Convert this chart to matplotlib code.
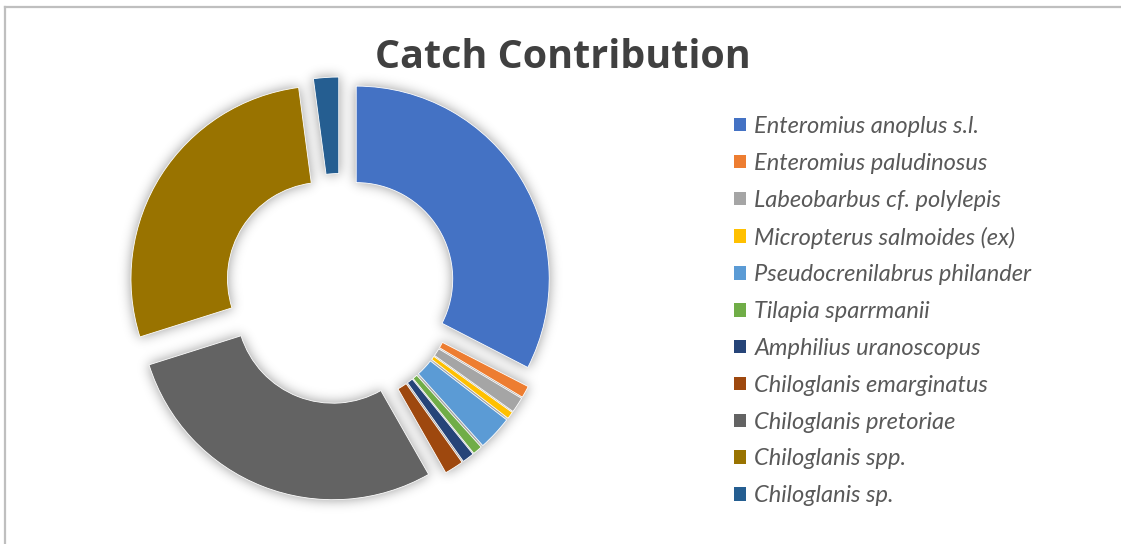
import matplotlib
matplotlib.use("Agg")
import numpy as np
import matplotlib.pyplot as plt
from matplotlib.lines import Line2D

species = [
    "Enteromius anoplus s.l.",
    "Enteromius paludinosus",
    "Labeobarbus cf. polylepis",
    "Micropterus salmoides (ex)",
    "Pseudocrenilabrus philander",
    "Tilapia sparrmanii",
    "Amphilius uranoscopus",
    "Chiloglanis emarginatus",
    "Chiloglanis pretoriae",
    "Chiloglanis spp.",
    "Chiloglanis sp.",
]
share = [32.6, 1.0, 1.3, 0.6, 2.9, 0.8, 1.0, 1.6, 28.4, 27.8, 2.1]
colors = ["#4472C4", "#ED7D31", "#A5A5A5", "#FFC000", "#5B9BD5", "#70AD47",
          "#264478", "#9E480E", "#636363", "#997300", "#255E91"]

W, H = 1121, 544
R = 193                 # outer radius in pixels
HOLE = 0.5              # ring thickness as a fraction of the radius
OFFSET = 19             # slice explosion distance in pixels
cx, cy = 340, H - 289


def make_axes(fig):
    ax = fig.add_axes([0, 0, 1, 1])
    ax.set_xlim(0, W)
    ax.set_ylim(0, H)
    ax.axis("off")
    return ax


def draw_donut(ax, cols):
    wedges, _ = ax.pie(share, colors=cols, startangle=90, counterclock=False,
                       radius=R, center=(cx, cy),
                       explode=[OFFSET] * len(share), frame=True,
                       wedgeprops=dict(width=HOLE * R, edgecolor="white",
                                       linewidth=0.6))
    ax.set_xlim(0, W)
    ax.set_ylim(0, H)
    return wedges


# soft shadow: render the ring silhouette, blur it, and lay it underneath
mfig = plt.figure(figsize=(W / 100, H / 100), dpi=100)
max_ = make_axes(mfig)
for w in draw_donut(max_, ["black"] * len(share)):
    w.set_edgecolor("black")
mfig.canvas.draw()
mask = 1.0 - np.asarray(mfig.canvas.buffer_rgba())[:, :, 0].astype(float) / 255.0
plt.close(mfig)

sigma = 6.0
rad = int(3 * sigma)
k = np.exp(-0.5 * (np.arange(-rad, rad + 1) / sigma) ** 2)
k /= k.sum()
blur = np.apply_along_axis(lambda r: np.convolve(r, k, mode="same"), 1, mask)
blur = np.apply_along_axis(lambda c: np.convolve(c, k, mode="same"), 0, blur)
shadow = np.zeros((H, W, 4))
shadow[:, :, 3] = np.clip(blur * 0.4, 0, 1)

fig = plt.figure(figsize=(W / 100, H / 100), dpi=100)
ax = make_axes(fig)
ax.imshow(shadow, extent=(0, W, 0, H), origin="upper", zorder=0,
          interpolation="bilinear")
wedges = draw_donut(ax, colors)
for w in wedges:
    w.set_zorder(3)
ax.set_aspect("equal")

fig.text(563 / W, 1 - 58 / H, "Catch Contribution", ha="center", va="center",
         fontsize=28.4, fontweight="bold", color="#404040",
         family=["Open Sans", "DejaVu Sans"])

leg = ax.legend(wedges, species, loc="upper left",
                bbox_to_anchor=(734 / W, 1 - 116 / H),
                bbox_transform=fig.transFigure, frameon=False,
                prop=dict(family=["Lato", "DejaVu Sans"], style="italic", size=17),
                labelcolor="#595959", handlelength=0.5, handleheight=0.5,
                handletextpad=0.36, labelspacing=0.67, borderpad=0,
                borderaxespad=0)
for h in leg.legend_handles:
    h.set_edgecolor("none")

# chart-area border (top and left edges)
fig.add_artist(Line2D([5 / W, 1], [1 - 7 / H, 1 - 7 / H], color="#BFBFBF",
                      linewidth=1.6, transform=fig.transFigure))
fig.add_artist(Line2D([5 / W, 5 / W], [0, 1 - 7 / H], color="#BFBFBF",
                      linewidth=1.6, transform=fig.transFigure))

fig.savefig("out.png", dpi=100)
